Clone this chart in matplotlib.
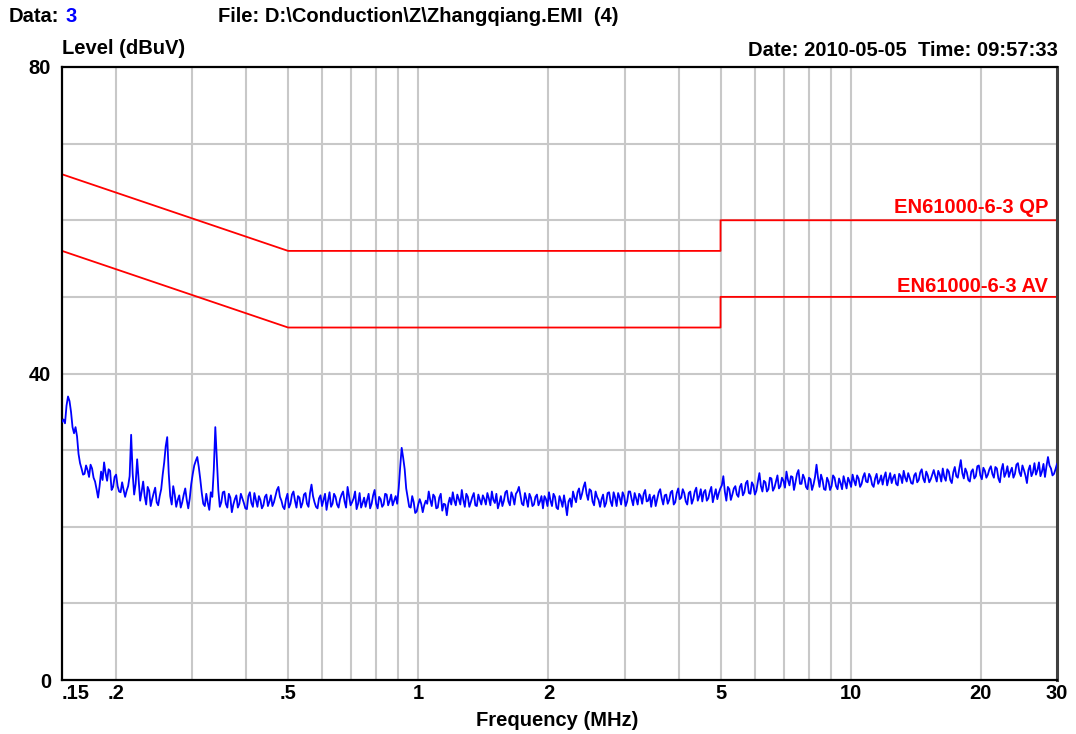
import matplotlib
matplotlib.use("Agg")
import matplotlib.pyplot as plt
import numpy as np

# limit lines (EN61000-6-3)
qp_freq = [0.15, 0.5, 5, 5, 30]
qp_level = [66, 56, 56, 60, 60]
av_freq = [0.15, 0.5, 5, 5, 30]
av_level = [56, 46, 46, 50, 50]

trace_level_a = [
    33.7, 33.5, 37.0, 35.0, 32.2, 31.8, 28.3, 26.8, 28.0, 26.5,
    27.6, 25.9, 23.8, 27.2, 28.4, 26.0, 27.3, 25.2, 26.8, 24.6,
    25.8, 23.9, 25.3, 32.0, 24.2, 28.8, 23.4, 25.9, 22.9, 24.7,
    23.6, 25.1, 22.8, 24.9, 28.4, 31.7, 24.0, 25.3, 22.6, 24.1,
    23.2, 25.0, 22.4, 25.6, 28.0, 29.1, 26.2, 23.0, 24.3, 22.2,
    23.9, 33.0, 24.8, 23.2, 24.6, 22.5, 23.8, 22.9, 24.1, 23.0,
    23.7, 22.4, 24.0, 23.1, 24.4, 22.6, 23.5, 22.8, 24.2, 23.3,
    22.7, 24.0, 25.2, 23.4, 22.3, 24.3, 23.0, 24.6, 22.5, 23.8,
    23.1, 24.4, 22.6, 25.5, 23.2, 22.4, 24.1, 23.5, 22.2, 24.5,
    23.0, 23.9, 22.5, 24.2, 23.3, 25.2, 22.8, 23.7, 22.3, 24.4,
    23.1, 22.6, 24.3, 23.0, 24.8, 22.4, 23.6, 22.9, 24.2, 23.4,
    22.8, 24.0, 25.0, 30.3, 27.5, 23.8, 22.5, 23.2, 22.0, 23.6,
    21.9, 23.4, 24.6, 22.7, 23.9, 22.5, 24.3, 23.0, 21.5, 23.8,
    24.5, 22.8, 23.6, 24.8, 22.6, 23.9, 23.2, 24.4, 22.7, 23.5,
    24.1, 22.9, 23.7, 24.6, 23.1, 22.4, 24.0, 23.4, 24.7, 22.8,
    23.9, 24.3, 25.2, 23.0, 24.4, 22.6, 23.8, 22.9, 24.2, 23.3,
    22.4, 23.6, 24.5, 22.7, 23.9, 22.3, 23.4, 24.1, 21.5, 23.7,
    24.6, 23.2, 25.0, 24.3, 25.8, 23.5, 24.7, 22.8, 23.9, 22.6,
    24.2, 23.1, 24.5, 22.7, 23.8, 24.4, 22.9, 24.0, 23.3, 24.6,
    22.8, 23.7, 24.3, 23.0, 24.8, 23.4, 22.6, 24.1, 23.6, 24.9,
    22.9, 24.2, 23.5, 24.7, 23.2, 25.0, 23.8, 24.4, 22.9, 24.6,
    23.6, 25.1, 24.0, 23.3, 24.8, 23.7, 25.2, 24.1, 23.6, 25.0,
    26.6, 23.4, 24.9, 24.2, 25.3, 23.9, 25.6, 24.5, 26.0, 24.3,
    25.4, 24.7, 27.0, 24.6, 25.8, 24.9, 26.3, 25.1, 26.7, 25.3,
    26.0, 27.2, 25.4, 26.5, 25.8, 27.4, 25.6, 26.3, 24.9, 26.2,
    25.5, 28.1, 25.2, 26.1, 24.8, 25.9, 25.3, 26.4, 24.9, 25.7,
    26.6, 25.0, 25.9, 26.8, 25.4, 26.3, 25.6, 27.0, 25.8, 26.5,
    25.2, 26.9, 26.0, 25.5, 27.1, 26.2, 25.7, 26.8, 25.4, 26.6,
    27.3, 25.9, 26.4, 25.6, 27.0, 26.1, 27.5, 25.8, 26.7, 26.2,
    27.4, 25.9, 26.8, 27.6, 26.0, 27.2, 25.7, 27.8, 26.4, 28.7,
    26.3, 27.1, 25.9, 27.5, 26.6, 28.0, 26.2, 27.3, 26.8, 27.9,
    26.4, 27.6, 25.8, 28.2, 27.0, 26.5, 27.7, 26.9, 28.3, 26.6,
    27.4, 25.7, 28.0, 27.1, 26.8, 28.4, 27.2, 26.5, 29.1, 27.6,
    26.9, 28.2,
]

# odd sample points (between the even ones)
trace_level_b = [
    34.0, 35.8, 36.4, 33.0, 33.0, 29.5, 27.6, 26.9, 27.4, 28.1,
    26.4, 24.9, 25.3, 26.1, 27.0, 27.5, 24.8, 26.5, 25.3, 24.5,
    24.8, 24.7, 26.6, 27.0, 25.6, 26.0, 24.6, 24.0, 25.2, 22.7,
    24.4, 23.2, 24.0, 26.8, 30.5, 27.0, 22.9, 24.2, 23.5, 22.5,
    24.2, 23.5, 23.7, 26.9, 28.6, 27.8, 24.4, 22.7, 23.1, 24.5,
    27.5, 29.0, 22.6, 24.5, 23.0, 24.3, 21.9, 23.6, 22.5, 24.3,
    23.1, 22.3, 24.5, 22.6, 23.5, 24.0, 22.4, 23.9, 22.7, 24.1,
    23.2, 24.8, 23.9, 22.6, 23.6, 22.5, 24.2, 23.4, 24.0, 22.5,
    24.2, 23.0, 24.4, 24.0, 22.6, 23.7, 22.7, 24.3, 23.4, 22.6,
    24.3, 22.9, 23.6, 24.6, 22.5, 24.0, 23.2, 24.6, 23.0, 22.5,
    23.8, 23.5, 22.4, 24.1, 23.0, 23.9, 22.6, 24.3, 22.8, 24.2,
    23.4, 23.0, 27.8, 29.0, 25.0, 22.6, 24.0, 21.8, 22.9, 23.0,
    22.8, 23.0, 23.5, 24.2, 22.4, 23.8, 22.1, 22.9, 23.0, 22.9,
    23.4, 24.2, 22.9, 23.5, 24.3, 22.6, 23.9, 22.8, 24.2, 22.9,
    23.6, 24.4, 22.8, 23.5, 24.3, 23.1, 22.7, 24.5, 23.3, 24.5,
    22.9, 24.6, 24.1, 22.8, 23.6, 24.3, 22.7, 23.9, 22.8, 24.0,
    24.0, 22.7, 23.4, 24.3, 22.5, 24.0, 22.6, 22.9, 23.3, 22.6,
    23.8, 24.5, 23.6, 25.2, 24.3, 24.9, 23.3, 24.6, 23.5, 23.6,
    22.6, 24.4, 23.3, 24.5, 22.7, 23.8, 24.5, 22.7, 24.6, 23.6,
    24.4, 22.9, 24.0, 24.3, 23.3, 24.2, 23.8, 22.7, 24.5, 23.7,
    24.1, 23.0, 24.5, 22.9, 24.4, 23.6, 24.9, 23.3, 24.4, 23.0,
    24.6, 23.4, 24.9, 24.5, 23.4, 24.6, 23.2, 24.9, 24.4, 25.4,
    24.6, 25.2, 23.5, 25.0, 24.2, 25.2, 24.1, 25.7, 24.4, 25.8,
    24.2, 25.9, 25.3, 26.0, 24.6, 26.4, 24.7, 25.9, 25.0, 26.4,
    25.1, 26.1, 26.6, 24.8, 26.9, 25.6, 26.8, 25.2, 26.4, 24.8,
    26.5, 26.4, 26.8, 24.9, 26.4, 24.8, 26.7, 25.3, 26.3, 24.9,
    25.8, 26.4, 25.2, 26.0, 26.7, 25.2, 26.5, 25.9, 26.9, 25.5,
    26.3, 25.6, 26.7, 26.5, 25.4, 27.0, 26.4, 25.6, 26.9, 25.7,
    26.4, 27.0, 25.7, 26.7, 25.8, 27.1, 26.3, 27.2, 25.8, 26.8,
    26.6, 27.3, 25.9, 26.5, 27.5, 26.1, 27.1, 26.6, 27.6, 27.0,
    27.6, 26.1, 27.2, 26.3, 27.9, 26.7, 27.7, 26.4, 27.5, 26.9,
    27.8, 26.3, 27.4, 26.5, 27.9, 27.2, 26.4, 28.1, 27.1, 28.0,
    26.7, 27.4, 26.6, 28.3, 27.4, 26.6, 28.2, 27.9, 28.0, 26.7,
    27.5,
]

x_ticks = [0.15, 0.2, 0.5, 1, 2, 5, 10, 20, 30]
x_tick_labels = [".15", ".2", ".5", "1", "2", "5", "10", "20", "30"]
x_grid = [0.2, 0.3, 0.4, 0.5, 0.6, 0.7, 0.8, 0.9, 1, 2, 3, 4, 5, 6, 7, 8, 9, 10, 20]
y_grid = [10, 20, 30, 40, 50, 60, 70]
y_ticks = [0, 40, 80]

W, H = 1076, 734
plt.rcParams["font.family"] = ["Liberation Sans", "DejaVu Sans"]
plt.rcParams["font.weight"] = "bold"
fs = 14.5

fig = plt.figure(figsize=(W / 100, H / 100), dpi=100)
ax = fig.add_axes([62 / W, 1 - 680 / H, 995 / W, 613 / H])

# interleave the two sample sets into one sweep
trace_level = np.empty(len(trace_level_a) + len(trace_level_b))
trace_level[0::2] = trace_level_a
trace_level[1::2] = trace_level_b
trace_freq = np.geomspace(0.15, 30, len(trace_level))

for f in x_grid:
    ax.axvline(f, color="#c8c8c8", lw=1.5, zorder=0)
for lv in y_grid:
    ax.axhline(lv, color="#c8c8c8", lw=1.5, zorder=0)

ax.plot(qp_freq, qp_level, color="#ff0000", lw=1.3, zorder=2)
ax.plot(av_freq, av_level, color="#ff0000", lw=1.3, zorder=2)
ax.plot(trace_freq, trace_level, color="#0000ff", lw=1.3, zorder=3)

ax.text(0.991, 61.6, "EN61000-6-3 QP", color="#ff0000", fontsize=fs,
        fontweight="bold", ha="right", va="center",
        transform=ax.get_yaxis_transform())
ax.text(0.991, 51.4, "EN61000-6-3 AV", color="#ff0000", fontsize=fs,
        fontweight="bold", ha="right", va="center",
        transform=ax.get_yaxis_transform())

ax.set_xscale("log")
ax.set_xlim(0.15, 30)
ax.set_ylim(0, 80)
ax.set_xticks(x_ticks)
ax.set_xticklabels(x_tick_labels)
ax.xaxis.set_minor_locator(matplotlib.ticker.NullLocator())
ax.set_yticks(y_ticks)
ax.tick_params(length=0, labelsize=fs)
ax.tick_params(axis="x", pad=3)
ax.tick_params(axis="y", pad=8)
for lab in ax.get_xticklabels() + ax.get_yticklabels():
    lab.set_fontweight("bold")
ax.get_xticklabels()[0].set_horizontalalignment("left")
for sp in ax.spines.values():
    sp.set_color("black")
    sp.set_linewidth(1.6)
ax.spines["right"].set_color("#404040")
ax.spines["right"].set_linewidth(2.2)

fig.text(557 / W, 1 - 720 / H, "Frequency (MHz)", fontsize=fs,
         fontweight="bold", ha="center", va="center")
fig.text(9 / W, 1 - 17 / H, "Data:", fontsize=fs, fontweight="bold", va="center")
fig.text(65 / W, 1 - 17 / H, "3", fontsize=fs, fontweight="bold", va="center",
         color="#0000ff")
fig.text(218 / W, 1 - 17 / H, "File: D:\\Conduction\\Z\\Zhangqiang.EMI  (4)",
         fontsize=fs, fontweight="bold", va="center")
fig.text(62 / W, 1 - 48 / H, "Level (dBuV)", fontsize=fs, fontweight="bold",
         va="center")
fig.text(1058 / W, 1 - 50 / H, "Date: 2010-05-05  Time: 09:57:33", fontsize=fs,
         fontweight="bold", va="center", ha="right")

fig.savefig("out.png", dpi=100)
